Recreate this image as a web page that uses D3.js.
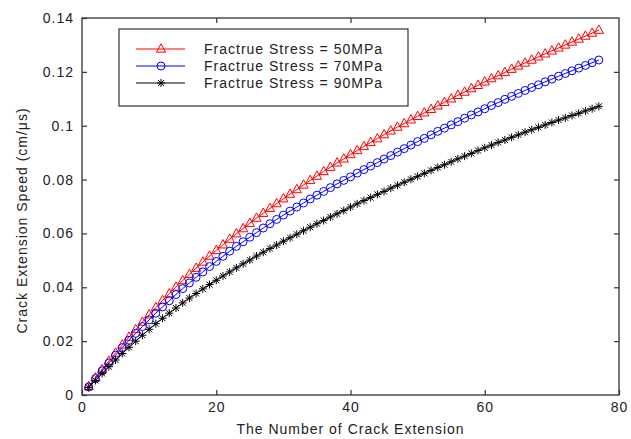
<!DOCTYPE html>
<html>
<head>
<meta charset="utf-8">
<script src="https://cdn.jsdelivr.net/npm/d3@7"></script>
<style>
  html, body { margin: 0; padding: 0; background: #fff; }
  svg { display: block; font-family: "Liberation Sans", Arial, sans-serif; }
  svg text { letter-spacing: 1px; }
</style>
</head>
<body>
<svg id="chart" width="631" height="439"></svg>
<script>
// Crack extension speed (cm/μs) vs. number of crack extensions, n = 1..77
const extensions = d3.range(1, 78);

const speed50 = [
  0.0032, 0.0064, 0.0095, 0.0126, 0.0156, 0.0186, 0.0215, 0.0243, 0.0271, 0.0298,
  0.0325, 0.0351, 0.0376, 0.0401, 0.0425, 0.0448, 0.0471, 0.0494, 0.0516, 0.0537,
  0.0558, 0.0579, 0.0599, 0.0618, 0.0638, 0.0657, 0.0675, 0.0693, 0.0711, 0.0729,
  0.0746, 0.0763, 0.0780, 0.0797, 0.0813, 0.0830, 0.0846, 0.0862, 0.0877, 0.0893,
  0.0908, 0.0923, 0.0938, 0.0952, 0.0967, 0.0981, 0.0995, 0.1008, 0.1022, 0.1035,
  0.1048, 0.1061, 0.1074, 0.1087, 0.1100, 0.1113, 0.1125, 0.1138, 0.1150, 0.1163,
  0.1175, 0.1186, 0.1198, 0.1210, 0.1222, 0.1233, 0.1244, 0.1256, 0.1267, 0.1278,
  0.1289, 0.1300, 0.1311, 0.1322, 0.1333, 0.1344, 0.1355
];

const speed70 = [
  0.0030, 0.0061, 0.0090, 0.0119, 0.0148, 0.0176, 0.0203, 0.0229, 0.0254, 0.0279,
  0.0304, 0.0327, 0.0350, 0.0373, 0.0395, 0.0416, 0.0437, 0.0457, 0.0477, 0.0496,
  0.0515, 0.0534, 0.0552, 0.0569, 0.0586, 0.0603, 0.0620, 0.0636, 0.0652, 0.0668,
  0.0683, 0.0698, 0.0713, 0.0728, 0.0742, 0.0756, 0.0770, 0.0784, 0.0797, 0.0810,
  0.0824, 0.0837, 0.0850, 0.0863, 0.0876, 0.0889, 0.0902, 0.0915, 0.0928, 0.0941,
  0.0953, 0.0966, 0.0979, 0.0991, 0.1003, 0.1015, 0.1028, 0.1040, 0.1051, 0.1063,
  0.1075, 0.1086, 0.1098, 0.1109, 0.1120, 0.1131, 0.1142, 0.1152, 0.1163, 0.1173,
  0.1184, 0.1194, 0.1204, 0.1214, 0.1224, 0.1234, 0.1244
];

const speed90 = [
  0.0028, 0.0054, 0.0080, 0.0105, 0.0130, 0.0154, 0.0177, 0.0200, 0.0222, 0.0244,
  0.0265, 0.0285, 0.0304, 0.0323, 0.0342, 0.0360, 0.0377, 0.0394, 0.0410, 0.0426,
  0.0442, 0.0457, 0.0472, 0.0487, 0.0501, 0.0516, 0.0530, 0.0544, 0.0557, 0.0571,
  0.0584, 0.0597, 0.0610, 0.0623, 0.0636, 0.0648, 0.0661, 0.0673, 0.0685, 0.0698,
  0.0710, 0.0722, 0.0733, 0.0745, 0.0756, 0.0768, 0.0779, 0.0790, 0.0801, 0.0812,
  0.0823, 0.0834, 0.0845, 0.0855, 0.0866, 0.0877, 0.0887, 0.0897, 0.0908, 0.0918,
  0.0928, 0.0938, 0.0947, 0.0957, 0.0966, 0.0976, 0.0985, 0.0994, 0.1003, 0.1012,
  0.1021, 0.1029, 0.1038, 0.1046, 0.1055, 0.1063, 0.1072
];

const seriesNames = [
  "Fractrue Stress = 50MPa",
  "Fractrue Stress = 70MPa",
  "Fractrue Stress = 90MPa"
];
const seriesColors = ["#ff0000", "#0000ff", "#000000"];
const seriesMarkers = ["triangle", "circle", "star"];

const xTicks = [0, 20, 40, 60, 80];
const yTicks = [0, 0.02, 0.04, 0.06, 0.08, 0.1, 0.12, 0.14];

const xTitle = "The Number of Crack Extension";
const yTitle = "Crack Extension Speed (cm/μs)";

const series = [speed50, speed70, speed90].map((vals, i) => ({
  name: seriesNames[i],
  color: seriesColors[i],
  marker: seriesMarkers[i],
  points: vals.map((v, j) => ({ x: extensions[j], y: v }))
}));

const svg = d3.select("#chart");
const margin = { left: 82, right: 12, top: 18, bottom: 44 };
const W = 631, H = 439;
const x = d3.scaleLinear().domain([0, 80]).range([margin.left, W - margin.right]);
const y = d3.scaleLinear().domain([0, 0.14]).range([H - margin.bottom, margin.top]);

const axisColor = "#333";
const labelColor = "#222";
const tickLen = 5;
const fontSize = "14px";

// Plot area frame
svg.append("rect")
  .attr("x", x(0)).attr("y", y(0.14))
  .attr("width", x(80) - x(0)).attr("height", y(0) - y(0.14))
  .attr("fill", "#fff").attr("stroke", axisColor).attr("stroke-width", 1.3);

// Axes with inward ticks on all four sides
const fmt = d3.format("~g");
svg.append("g")
  .attr("transform", `translate(0,${y(0)})`)
  .call(d3.axisBottom(x).tickValues(xTicks).tickSizeInner(-tickLen).tickSizeOuter(0).tickPadding(7))
  .call(g => g.select(".domain").remove());
svg.append("g")
  .attr("transform", `translate(0,${y(0.14)})`)
  .call(d3.axisTop(x).tickValues(xTicks.slice(1, -1)).tickSizeInner(-tickLen).tickSizeOuter(0).tickFormat(""))
  .call(g => g.select(".domain").remove());
svg.append("g")
  .attr("transform", `translate(${x(0)},0)`)
  .call(d3.axisLeft(y).tickValues(yTicks).tickSizeInner(-tickLen).tickSizeOuter(0).tickPadding(8).tickFormat(fmt))
  .call(g => g.select(".domain").remove());
svg.append("g")
  .attr("transform", `translate(${x(80)},0)`)
  .call(d3.axisRight(y).tickValues(yTicks.slice(1, -1)).tickSizeInner(-tickLen).tickSizeOuter(0).tickFormat(""))
  .call(g => g.select(".domain").remove());

svg.selectAll(".tick line").attr("stroke", axisColor).attr("stroke-width", 1.2);
svg.selectAll(".tick text")
  .attr("fill", labelColor)
  .style("font-size", fontSize)
  .style("font-family", "'Liberation Sans', Arial, sans-serif");

// Axis titles
svg.append("text")
  .attr("x", (x(0) + x(80)) / 2).attr("y", 434)
  .attr("text-anchor", "middle")
  .attr("fill", labelColor)
  .style("font-size", fontSize)
  .text(xTitle);
svg.append("text")
  .attr("transform", `translate(27,${(y(0) + y(0.14)) / 2 + 14}) rotate(-90)`)
  .attr("text-anchor", "middle")
  .attr("fill", labelColor)
  .style("font-size", fontSize)
  .text(yTitle);

// Marker drawing
function drawMarker(g, type, color) {
  if (type === "triangle") {
    g.append("path").attr("d", "M0,-5.2L4.6,3.2L-4.6,3.2Z")
      .attr("fill", "none").attr("stroke", color).attr("stroke-width", 1);
  } else if (type === "circle") {
    g.append("circle").attr("r", 4)
      .attr("fill", "none").attr("stroke", color).attr("stroke-width", 1);
  } else {
    g.append("path").attr("d", "M-4,0H4M0,-4V4M-3,-3L3,3M-3,3L3,-3")
      .attr("fill", "none").attr("stroke", color).attr("stroke-width", 1);
  }
}

const line = d3.line().x(d => x(d.x)).y(d => y(d.y));

series.forEach(s => {
  const g = svg.append("g");
  g.append("path").datum(s.points)
    .attr("d", line).attr("fill", "none")
    .attr("stroke", s.color).attr("stroke-width", 1);
  g.selectAll("g.m").data(s.points).join("g")
    .attr("class", "m")
    .attr("transform", d => `translate(${x(d.x)},${y(d.y)})`)
    .each(function () { drawMarker(d3.select(this), s.marker, s.color); });
});

// Legend
const legend = svg.append("g").attr("transform", "translate(119,29)");
legend.append("rect")
  .attr("width", 289).attr("height", 77)
  .attr("fill", "#fff").attr("stroke", axisColor).attr("stroke-width", 1.2);
series.forEach((s, i) => {
  const row = legend.append("g").attr("transform", `translate(0,${20 + i * 17})`);
  row.append("line").attr("x1", 17).attr("x2", 66)
    .attr("stroke", s.color).attr("stroke-width", 1);
  drawMarker(row.append("g").attr("transform", "translate(42,0)"), s.marker, s.color);
  row.append("text").attr("x", 85).attr("y", 5)
    .attr("fill", labelColor)
    .style("font-size", fontSize)
    .text(s.name);
});
</script>
</body>
</html>
